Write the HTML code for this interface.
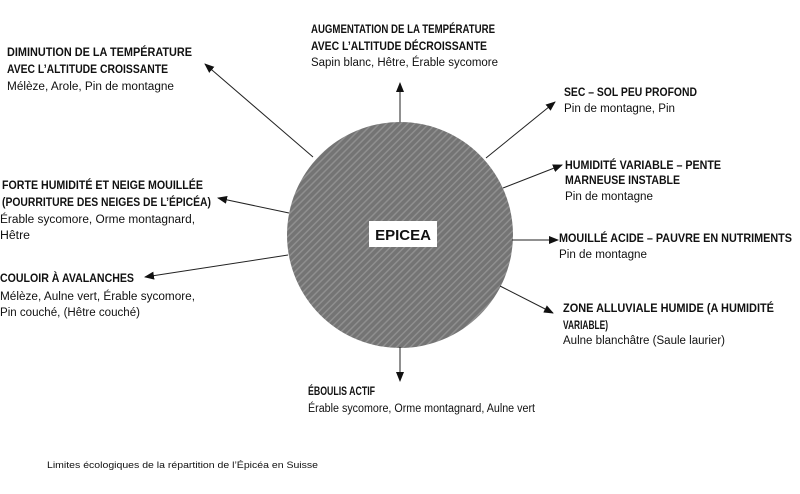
<!DOCTYPE html>
<html><head><meta charset="utf-8"><style>
html,body{margin:0;padding:0;background:#fff;}
svg{display:block;}
text{font-family:"Liberation Sans",sans-serif;fill:#111;}
.b{font-weight:bold;font-size:11.5px;}
.n{font-size:11.5px;}
</style></head><body>
<svg width="800" height="494" viewBox="0 0 800 494" xmlns="http://www.w3.org/2000/svg">
<defs>
<marker id="a" markerWidth="10" markerHeight="8" refX="9" refY="4" orient="auto" markerUnits="userSpaceOnUse">
<path d="M0,0 L10,4 L0,8 Z" fill="#111"/></marker>
<pattern id="p" width="5" height="5" patternUnits="userSpaceOnUse" patternTransform="rotate(-45)">
<rect width="5" height="5" fill="#747474"/>
<rect width="5" height="1.5" fill="#8f8f8f"/>
</pattern>
</defs>
<circle cx="400" cy="235" r="113" fill="url(#p)"/>
<rect x="369" y="221" width="68" height="26" fill="#fff"/>
<text x="403" y="240" text-anchor="middle" class="b" style="font-size:15px">EPICEA</text>
<g stroke="#222" stroke-width="1" fill="none" marker-end="url(#a)">
<line x1="313" y1="157" x2="205" y2="64"/>
<line x1="400" y1="122" x2="400" y2="83"/>
<line x1="486" y1="158" x2="555" y2="102"/>
<line x1="503" y1="188" x2="562" y2="165"/>
<line x1="512" y1="240" x2="558" y2="240"/>
<line x1="500" y1="286" x2="553" y2="313"/>
<line x1="400" y1="347" x2="400" y2="381"/>
<line x1="289" y1="213" x2="218" y2="198"/>
<line x1="288" y1="255" x2="145" y2="277"/>
</g>
<g>
<text x="7" y="56" class="b" textLength="185" lengthAdjust="spacingAndGlyphs">DIMINUTION DE LA TEMPÉRATURE</text>
<text x="7" y="73" class="b" textLength="161" lengthAdjust="spacingAndGlyphs">AVEC L’ALTITUDE CROISSANTE</text>
<text x="7" y="90" class="n" textLength="167" lengthAdjust="spacingAndGlyphs">Mélèze, Arole, Pin de montagne</text>

<text x="2" y="189" class="b" textLength="201" lengthAdjust="spacingAndGlyphs">FORTE HUMIDITÉ ET NEIGE MOUILLÉE</text>
<text x="2" y="206" class="b" textLength="209" lengthAdjust="spacingAndGlyphs">(POURRITURE DES NEIGES DE L’ÉPICÉA)</text>
<text x="0" y="223" class="n" textLength="195" lengthAdjust="spacingAndGlyphs">Érable sycomore, Orme montagnard,</text>
<text x="0" y="239" class="n" textLength="30" lengthAdjust="spacingAndGlyphs">Hêtre</text>

<text x="0" y="282" class="b" textLength="134" lengthAdjust="spacingAndGlyphs">COULOIR À AVALANCHES</text>
<text x="0" y="300" class="n" textLength="195" lengthAdjust="spacingAndGlyphs">Mélèze, Aulne vert, Érable sycomore,</text>
<text x="0" y="316" class="n" textLength="140" lengthAdjust="spacingAndGlyphs">Pin couché, (Hêtre couché)</text>

<text x="311" y="33" class="b" textLength="184" lengthAdjust="spacingAndGlyphs">AUGMENTATION DE LA TEMPÉRATURE</text>
<text x="311" y="50" class="b" textLength="176" lengthAdjust="spacingAndGlyphs">AVEC L’ALTITUDE DÉCROISSANTE</text>
<text x="311" y="66" class="n" textLength="187" lengthAdjust="spacingAndGlyphs">Sapin blanc, Hêtre, Érable sycomore</text>

<text x="564" y="96" class="b" textLength="133" lengthAdjust="spacingAndGlyphs">SEC – SOL PEU PROFOND</text>
<text x="564" y="112" class="n" textLength="111" lengthAdjust="spacingAndGlyphs">Pin de montagne, Pin</text>

<text x="565" y="169" class="b" textLength="156" lengthAdjust="spacingAndGlyphs">HUMIDITÉ VARIABLE – PENTE</text>
<text x="565" y="184" class="b" textLength="115" lengthAdjust="spacingAndGlyphs">MARNEUSE INSTABLE</text>
<text x="565" y="200" class="n" textLength="88" lengthAdjust="spacingAndGlyphs">Pin de montagne</text>

<text x="559" y="242" class="b" textLength="233" lengthAdjust="spacingAndGlyphs">MOUILLÉ ACIDE – PAUVRE EN NUTRIMENTS</text>
<text x="559" y="258" class="n" textLength="88" lengthAdjust="spacingAndGlyphs">Pin de montagne</text>

<text x="563" y="312" class="b" textLength="211" lengthAdjust="spacingAndGlyphs">ZONE ALLUVIALE HUMIDE (A HUMIDITÉ</text>
<text x="563" y="329" class="b" textLength="45" lengthAdjust="spacingAndGlyphs">VARIABLE)</text>
<text x="563" y="344" class="n" textLength="162" lengthAdjust="spacingAndGlyphs">Aulne blanchâtre (Saule laurier)</text>

<text x="308" y="395" class="b" textLength="67" lengthAdjust="spacingAndGlyphs">ÉBOULIS ACTIF</text>
<text x="308" y="412" class="n" textLength="227" lengthAdjust="spacingAndGlyphs">Érable sycomore, Orme montagnard, Aulne vert</text>

<text x="47" y="468" style="font-size:9px" textLength="271" lengthAdjust="spacingAndGlyphs">Limites écologiques de la répartition de l’Épicéa en Suisse</text>
</g>
</svg>
</body></html>
